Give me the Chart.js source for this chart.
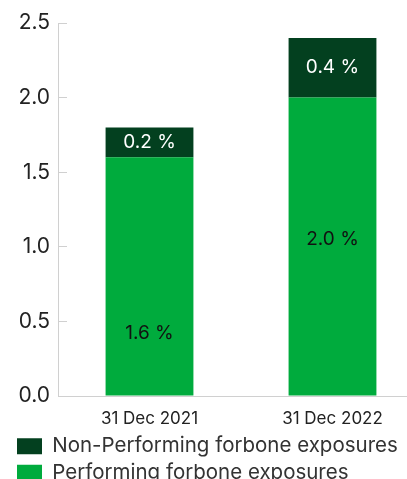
<!DOCTYPE html>
<html>
<head>
<meta charset="utf-8">
<script src="https://cdn.jsdelivr.net/npm/chart.js@4/dist/chart.umd.min.js"></script>
<style>
  html, body { margin: 0; padding: 0; background: #fff; overflow: hidden; }
  canvas { display: block; }
</style>
</head>
<body>
<canvas id="forborne" width="424" height="493"></canvas>
<script>
var categories = ['31 Dec 2021', '31 Dec 2022'];
var performing = [1.6, 2.0];
var nonPerforming = [0.2, 0.4];
var seriesNames = ['Performing forbone exposures', 'Non-Performing forbone exposures'];

var FONT = 'Inter, "DejaVu Sans", sans-serif';

// writes "x.x %" on every bar segment
var barLabels = {
    id: 'barLabels',
    afterDatasetsDraw: function (chart, args, opts) {
        var ctx = chart.ctx;
        var yScale = chart.scales.y;
        ctx.save();
        ctx.font = opts.size + 'px ' + FONT;
        ctx.textAlign = 'center';
        ctx.textBaseline = 'middle';
        chart.data.datasets.forEach(function (ds, i) {
            chart.getDatasetMeta(i).data.forEach(function (bar, j) {
                var v = ds.data[j];
                var at = opts.anchors[i];
                var y = at ? yScale.getPixelForValue(at[j]) : (bar.y + bar.base) / 2;
                ctx.fillStyle = opts.colors[i];
                ctx.fillText(v.toFixed(1) + ' %', bar.x, y);
            });
        });
        ctx.restore();
    }
};

var ctx = document.getElementById('forborne').getContext('2d');
var chart = new Chart(ctx, {
    type: 'bar',
    data: {
        labels: categories,
        datasets: [{
            label: seriesNames[0],
            data: performing,
            backgroundColor: '#00AB3D'
        }, {
            label: seriesNames[1],
            data: nonPerforming,
            backgroundColor: '#03401F'
        }]
    },
    options: {
        responsive: false,
        animation: false,
        devicePixelRatio: 1,
        layout: { padding: { left: 11, right: 0, top: 23, bottom: 0 } },
        datasets: {
            bar: { categoryPercentage: 1, barPercentage: 0.48, borderWidth: 0 }
        },
        scales: {
            x: {
                stacked: true,
                afterFit: function (s) { s.height = 34; },
                grid: { display: false },
                border: { display: true, color: '#d0d0d0', width: 1 },
                ticks: {
                    color: '#222',
                    padding: 5,
                    font: { family: FONT, size: 17 }
                }
            },
            y: {
                stacked: true,
                min: 0,
                max: 2.5,
                afterFit: function (s) {
                    s.width = 47;
                    s.paddingTop = 0;
                    s.paddingBottom = 0;
                },
                grid: {
                    drawOnChartArea: false,
                    drawTicks: true,
                    tickLength: -9,
                    color: '#d0d0d0'
                },
                border: { display: true, color: '#d0d0d0', width: 1 },
                ticks: {
                    stepSize: 0.5,
                    padding: 17,
                    color: '#222',
                    font: { family: FONT, size: 21 },
                    callback: function (v) { return v.toFixed(1); }
                }
            }
        },
        plugins: {
            tooltip: { enabled: false },
            legend: {
                position: 'bottom',
                align: 'start',
                reverse: true,
                labels: {
                    boxWidth: 25,
                    boxHeight: 16,
                    padding: 6,
                    color: '#333',
                    font: { family: FONT, size: 20.5 }
                }
            },
            barLabels: {
                size: 19,
                colors: ['#111', '#fff'],
                anchors: [[0.42, 1.05], null]
            }
        }
    },
    plugins: [barLabels]
});
</script>
</body>
</html>
